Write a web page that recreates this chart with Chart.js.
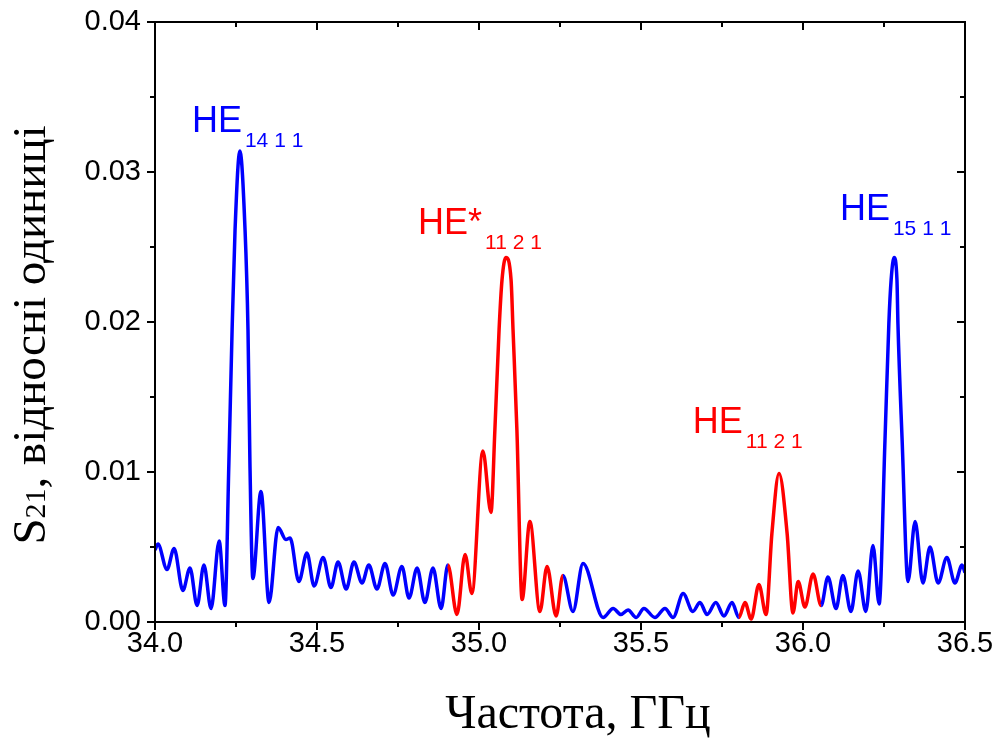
<!DOCTYPE html>
<html>
<head>
<meta charset="utf-8">
<script src="https://cdn.jsdelivr.net/npm/chart.js@4.4.0/dist/chart.umd.min.js"></script>
<style>
  html, body { margin: 0; padding: 0; background: #fff; }
</style>
</head>
<body>
<canvas id="chart" width="998" height="747"></canvas>
<script>
// frequency, GHz (extrema + a few flank points)
const freqs = [
  34.000, 34.009, 34.037, 34.059, 34.086, 34.108, 34.130, 34.151, 34.173, 34.198,
  34.216, 34.228, 34.238, 34.247, 34.262, 34.278, 34.287, 34.293, 34.302, 34.327,
  34.352, 34.380, 34.404, 34.417, 34.444, 34.469, 34.491, 34.519, 34.543, 34.565,
  34.590, 34.614, 34.639, 34.660, 34.685, 34.710, 34.735, 34.762, 34.784, 34.809,
  34.833, 34.858, 34.883, 34.904, 34.932, 34.957, 34.978, 35.012, 35.037, 35.049,
  35.062, 35.071, 35.083, 35.099, 35.105, 35.117, 35.133, 35.157, 35.188, 35.210,
  35.238, 35.259, 35.290, 35.321, 35.383, 35.414, 35.438, 35.460, 35.485, 35.509,
  35.543, 35.574, 35.599, 35.630, 35.660, 35.682, 35.704, 35.731, 35.756, 35.781,
  35.802, 35.821, 35.840, 35.864, 35.886, 35.904, 35.926, 35.951, 35.969, 35.985,
  36.006, 36.031, 36.056, 36.077, 36.102, 36.123, 36.148, 36.170, 36.194, 36.216,
  36.235, 36.253, 36.265, 36.272, 36.281, 36.290, 36.293, 36.306, 36.324, 36.346,
  36.370, 36.392, 36.417, 36.444, 36.469, 36.491, 36.500
];
// S21, relative units
const s21 = [
  0.0048, 0.0052, 0.0035, 0.0049, 0.0021, 0.0036, 0.0011, 0.0038, 0.0009, 0.0054,
  0.0011, 0.0106, 0.0195, 0.0261, 0.0314, 0.0261, 0.0195, 0.0106, 0.0029, 0.0087,
  0.0013, 0.0063, 0.0055, 0.0056, 0.0027, 0.0046, 0.0024, 0.0043, 0.0023, 0.0040,
  0.0022, 0.0040, 0.0026, 0.0038, 0.0022, 0.0039, 0.0018, 0.0037, 0.0016, 0.0036,
  0.0013, 0.0036, 0.0009, 0.0038, 0.0005, 0.0045, 0.0019, 0.0114, 0.0073, 0.0128,
  0.0195, 0.0228, 0.0243, 0.0228, 0.0195, 0.0128, 0.0015, 0.0067, 0.0007, 0.0037,
  0.0004, 0.0031, 0.0007, 0.0039, 0.0003, 0.0009, 0.0005, 0.0008, 0.0003, 0.0009,
  0.0003, 0.0009, 0.0003, 0.0019, 0.0007, 0.0013, 0.0005, 0.0013, 0.0004, 0.0013,
  0.0003, 0.0013, 0.0002, 0.0025, 0.0005, 0.0059, 0.0099, 0.0059, 0.0006, 0.0027,
  0.0010, 0.0032, 0.0011, 0.0030, 0.0009, 0.0031, 0.0007, 0.0034, 0.0007, 0.0051,
  0.0012, 0.0121, 0.0199, 0.0228, 0.0243, 0.0228, 0.0199, 0.0121, 0.0027, 0.0067,
  0.0026, 0.0050, 0.0026, 0.0043, 0.0026, 0.0038, 0.0033
];
// parts of the curve drawn in red
const redRanges = [[34.90, 35.259], [35.80, 36.056]];

const xTicks = [34.0, 34.5, 35.0, 35.5, 36.0, 36.5];
const xMinor = [34.25, 34.75, 35.25, 35.75, 36.25];
const yTicks = [0.00, 0.01, 0.02, 0.03, 0.04];
const yMinor = [0.005, 0.015, 0.025, 0.035];

// mode labels
const modeNames = ['HE', 'HE*', 'HE', 'HE'];
const modeSubs = ['14 1 1', '11 2 1', '11 2 1', '15 1 1'];
const modeX = [34.114, 34.812, 35.660, 36.114];
const modeY = [0.0327, 0.0259, 0.0126, 0.0268];
const modeColors = ['#0000ff', '#ff0000', '#ff0000', '#0000ff'];

const BLUE = '#0000ff';
const RED = '#ff0000';
const SANS = '"Liberation Sans", Arial, sans-serif';
const SERIF = '"Liberation Serif", "Times New Roman", serif';

function isRed(x) {
  return redRanges.some(r => x >= r[0] - 1e-6 && x < r[1] - 1e-6);
}

const framePlugin = {
  id: 'frame',
  afterDraw(chart) {
    const { ctx, chartArea: a, scales: { x, y } } = chart;
    ctx.save();
    ctx.strokeStyle = '#000';
    ctx.lineWidth = 2;
    ctx.strokeRect(a.left, a.top, a.right - a.left, a.bottom - a.top);

    ctx.beginPath();
    const xt = (v, len) => {
      const px = Math.round(x.getPixelForValue(v));
      ctx.moveTo(px, a.bottom); ctx.lineTo(px, a.bottom + len);
      ctx.moveTo(px, a.top); ctx.lineTo(px, a.top + len);
    };
    const yt = (v, len) => {
      const py = Math.round(y.getPixelForValue(v));
      ctx.moveTo(a.left, py); ctx.lineTo(a.left - len, py);
      ctx.moveTo(a.right, py); ctx.lineTo(a.right - len, py);
    };
    xTicks.forEach(v => xt(v, 8));
    xMinor.forEach(v => xt(v, 5));
    yTicks.forEach(v => yt(v, 8));
    yMinor.forEach(v => yt(v, 5));
    ctx.stroke();

    // mode labels with subscripts
    modeNames.forEach((name, i) => {
      const px = x.getPixelForValue(modeX[i]);
      const py = y.getPixelForValue(modeY[i]);
      ctx.fillStyle = modeColors[i];
      ctx.textBaseline = 'alphabetic';
      ctx.textAlign = 'left';
      ctx.font = '36px ' + SANS;
      ctx.fillText(name, px, py);
      const w = ctx.measureText(name).width;
      ctx.font = '21px ' + SANS;
      ctx.fillText(modeSubs[i], px + w + 3, py + 15);
    });

    // x title
    ctx.fillStyle = '#000';
    ctx.font = '48px ' + SERIF;
    ctx.textAlign = 'center';
    ctx.fillText('Частота, ГГц', 578, 728);

    // y title, rotated, with subscript
    ctx.translate(30, 335);
    ctx.rotate(-Math.PI / 2);
    ctx.textAlign = 'left';
    const parts = [['S', 47], ['21', 30], [', відносні одиниці', 47]];
    let total = 0;
    parts.forEach(p => { ctx.font = p[1] + 'px ' + SERIF; total += ctx.measureText(p[0]).width; });
    let cx = -total / 2;
    parts.forEach(p => {
      ctx.font = p[1] + 'px ' + SERIF;
      ctx.fillText(p[0], cx, 15);
      cx += ctx.measureText(p[0]).width;
    });
    ctx.restore();
  }
};

new Chart(document.getElementById('chart'), {
  type: 'line',
  data: {
    datasets: [{
      data: freqs.map((f, i) => ({ x: f, y: s21[i] })),
      borderColor: BLUE,
      borderWidth: 3.5,
      pointRadius: 0,
      fill: false,
      cubicInterpolationMode: 'monotone',
      segment: {
        borderColor: c => isRed(c.p0.parsed.x) ? RED : BLUE
      }
    }]
  },
  options: {
    responsive: false,
    animation: false,
    devicePixelRatio: 1,
    layout: { padding: { left: 0, top: 22, right: 33, bottom: 0 } },
    plugins: { legend: { display: false }, tooltip: { enabled: false } },
    scales: {
      x: {
        type: 'linear',
        min: 34,
        max: 36.5,
        afterBuildTicks: s => { s.ticks = xTicks.map(v => ({ value: v })); },
        afterFit: s => { s.height = 125; s.paddingLeft = 0; s.paddingRight = 0; },
        grid: { display: false, drawTicks: false },
        border: { display: false },
        ticks: {
          color: '#000',
          font: { family: SANS, size: 29 },
          padding: 5,
          maxRotation: 0,
          callback: v => v.toFixed(1)
        }
      },
      y: {
        type: 'linear',
        min: 0,
        max: 0.04,
        afterBuildTicks: s => { s.ticks = yTicks.map(v => ({ value: v })); },
        afterFit: s => { s.width = 155; s.paddingTop = 0; s.paddingBottom = 0; },
        grid: { display: false, drawTicks: false },
        border: { display: false },
        ticks: {
          color: '#000',
          font: { family: SANS, size: 29 },
          padding: 14,
          callback: v => v.toFixed(2)
        }
      }
    }
  },
  plugins: [framePlugin]
});
</script>
</body>
</html>
